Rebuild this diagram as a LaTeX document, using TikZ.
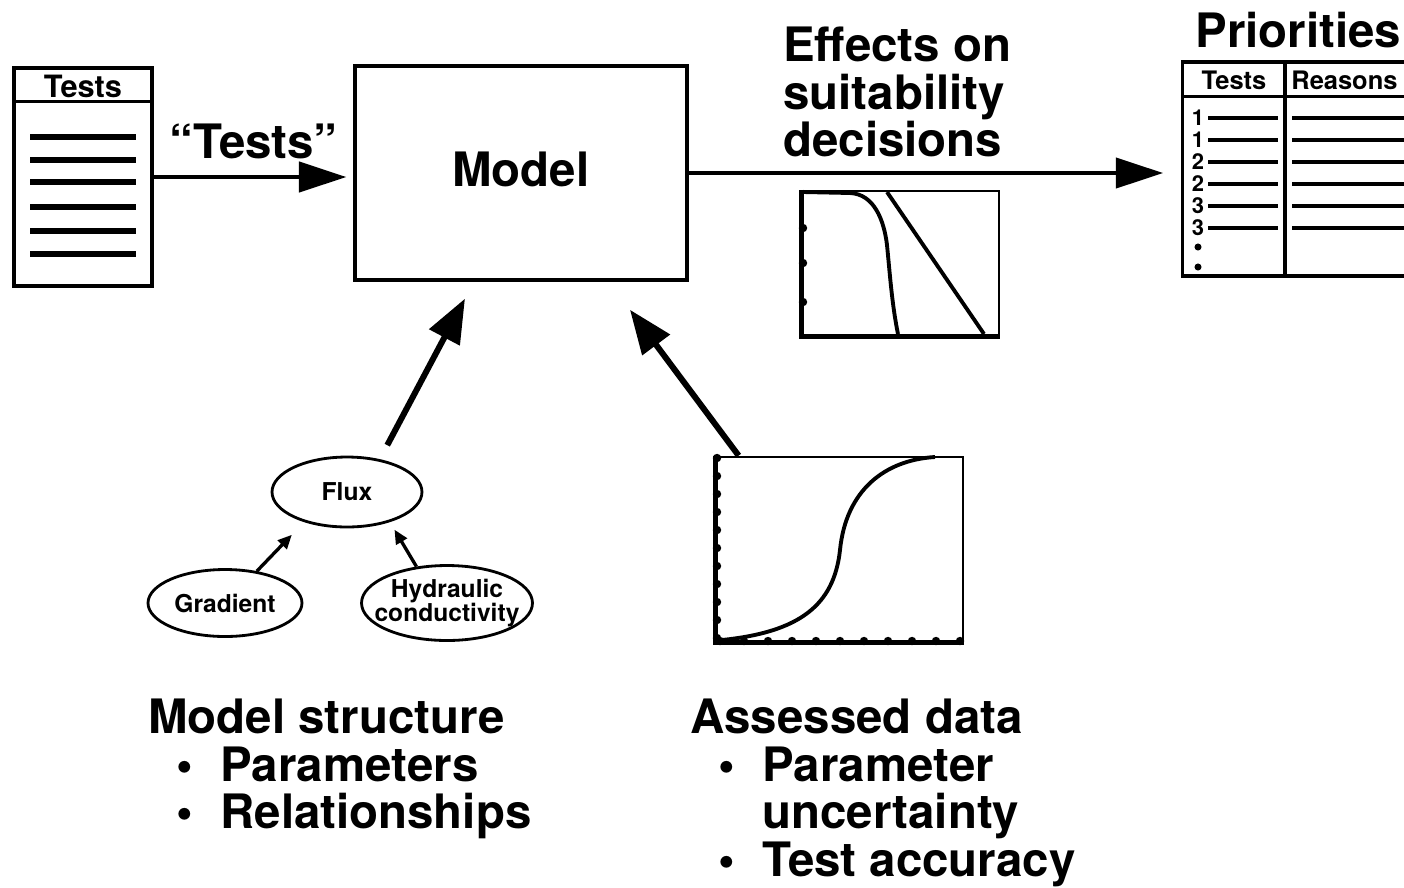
\documentclass[tikz,border=0pt]{standalone}
\usepackage{fontspec}
\setmainfont{TeX Gyre Heros}
\usetikzlibrary{arrows.meta,shapes.geometric}
\newcommand{\itm}{\makebox[41pt][c]{\textbullet}}

\begin{document}
\begin{tikzpicture}[
    x=0.02cm, y=-0.02cm,
    every node/.style={font=\bfseries},
    big/.style={font=\fontsize{27}{27}\selectfont\bfseries, inner sep=0pt},
    head/.style={font=\fontsize{17.5}{17.5}\selectfont\bfseries, inner sep=0pt},
    subhead/.style={font=\fontsize{14.5}{14.5}\selectfont\bfseries, inner sep=0pt},
    small/.style={font=\fontsize{14}{14}\selectfont\bfseries, inner sep=0pt},
    rank/.style={font=\fontsize{12.5}{12.5}\selectfont\bfseries, inner sep=0pt},
    listbox/.style={draw, line width=2pt},
    modelbox/.style={draw, line width=1.8pt, minimum width=6.64cm, minimum height=4.28cm, font=\fontsize{27}{27}\selectfont\bfseries},
    plotframe/.style={draw, line width=1.6pt},
    oval/.style={draw, ellipse, line width=1.6pt, inner sep=0pt, font=\fontsize{14}{14}\selectfont\bfseries},
    flow/.style={-{Triangle[length=27pt, width=17pt]}, line width=2.8pt},
    rise/.style={-{Triangle[length=25pt, width=19pt]}, line width=3.4pt},
    link/.style={-{Triangle[length=8pt, width=7pt]}, line width=1.9pt},
    bar/.style={line width=3pt},
    thinbar/.style={line width=2.2pt},
    curve/.style={line width=2.2pt}
]
\useasboundingbox (0,0) rectangle (1404,887);
\clip (0,0) rectangle (1404,887);

% test list on the left
\node[listbox, minimum width=2.76cm, minimum height=4.36cm] (testlist) at (83,177) {};
\draw[line width=2pt] ([yshift=-0.7cm]testlist.north west) -- ([yshift=-0.7cm]testlist.north east);
\node[head] (testhead) at (83,86) {Tests};
\foreach \y in {137,160,182,207,231,254}
    \draw[bar] (30,\y) -- (136,\y);

% model
\node[modelbox] (model) at (521,173) {\raisebox{4pt}{Model}};
\draw[flow, shorten >=4pt] (testlist.east) -- (testlist.east -| model.west)
    node[big, midway, above=9pt] {“Tests”};

% priorities table
\node[listbox, minimum width=4.94cm, minimum height=4.28cm] (prio) at (1306,169) {};
\node[big, anchor=south west] (priotitle) at (1195,48) {Priorities};
\draw[line width=2pt] ([yshift=-0.72cm]prio.north west) -- ([yshift=-0.72cm]prio.north east);
\draw[line width=2pt] ([xshift=2.08cm]prio.north west) -- ([xshift=2.08cm]prio.south west);
\node[subhead] (priotests) at (1234,80) {Tests};
\node[subhead, anchor=west] (reasons) at (1291,80) {Reasons};
\foreach \p/\y in {1/118,1/140,2/162,2/184,3/206,3/228} {
    \node[rank] at (1198,\y) {\p};
    \draw[thinbar] (1208,\y) -- (1278,\y);
    \draw[thinbar] (1292,\y) -- (1420,\y);
}
\fill (1198,247) circle[radius=2pt];
\fill (1198,267) circle[radius=2pt];
\draw[flow, shorten >=10pt] (model.east) -- (model.east -| prio.west);

% effects on decisions
\node[big, align=left, anchor=north west] (effects) at (783,27) {Effects on\\suitability\\decisions};
\node[plotframe, minimum width=3.92cm, minimum height=2.88cm] (effplot) at (901,263) {};
\draw[line width=3pt] (effplot.north west) -- (effplot.south west) -- (effplot.south east);
\foreach \y in {228,263,302}
    \fill (803,\y) circle[radius=2.4pt];
\draw[curve] (803,192) -- (850,193) .. controls (874,194) and (884,220) .. (887,245)
    .. controls (890,275) and (892,305) .. (898,334);
\draw[curve] (887,192) -- (984,334);

% model structure
\node[oval, minimum width=3cm, minimum height=1.4cm] (flux) at (347,492) {Flux};
\node[oval, minimum width=3.08cm, minimum height=1.34cm] (grad) at (225,603) {Gradient};
\node[oval, minimum width=3.42cm, minimum height=1.5cm,
    label={[small, align=center]center:{Hydraulic\\conductivity}}] (hyd) at (447,603) {};
\draw[link, shorten >=10pt] (grad.45) -- (flux.215);
\draw[link, shorten >=5pt] (hyd.130) -- (flux.-35);
\draw[rise, shorten <=9pt, shorten >=11pt] (flux.45) -- ([xshift=-0.94cm]model.south);

% assessed data
\node[plotframe, minimum width=4.92cm, minimum height=3.68cm] (dataplot) at (840,549) {};
\draw[line width=2.6pt] (dataplot.north west) -- (dataplot.south west) -- (dataplot.south east);
\foreach \y in {458,476,...,640}
    \fill (717,\y) circle[radius=2.4pt];
\foreach \x in {720,744,...,960}
    \fill (\x,641) circle[radius=2.4pt];
\draw[curve] (722,640) .. controls (800,632) and (834,605) .. (840,550)
    .. controls (846,490) and (885,460) .. (935,457);
\draw[rise, shorten >=20pt] ([xshift=0.46cm]dataplot.north west) -- ([xshift=1.76cm]model.south);

% captions
\node[big, align=left, anchor=north west] (structure) at (148,699)
    {Model structure\\\itm Parameters\\\itm Relationships};
\node[big, align=left, anchor=north west] (assessed) at (690,699)
    {Assessed data\\\itm Parameter\\\hspace*{41pt}uncertainty\\\itm Test accuracy};
\end{tikzpicture}
\end{document}
